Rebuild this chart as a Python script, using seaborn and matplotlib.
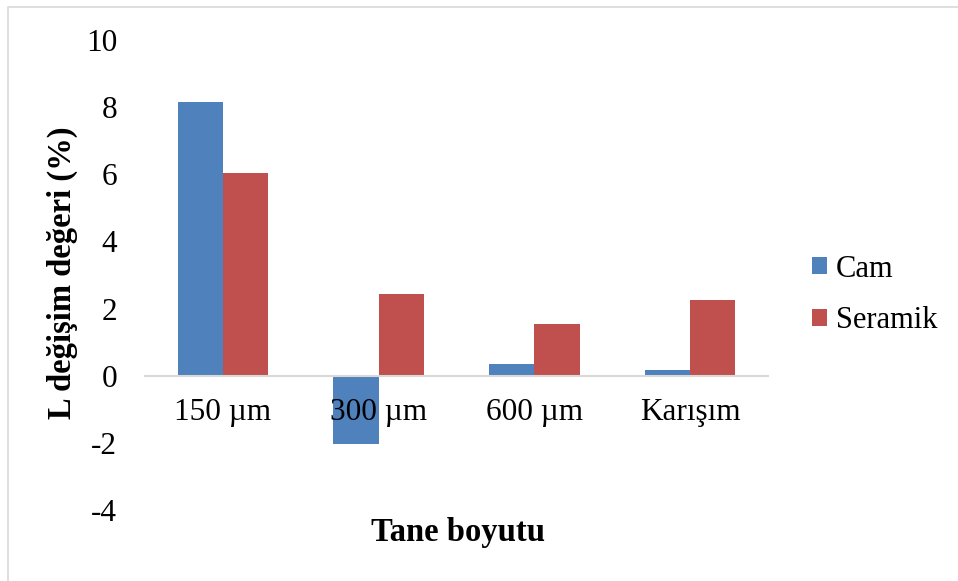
import matplotlib
matplotlib.use("Agg")
import matplotlib.pyplot as plt
import seaborn as sns
import pandas as pd
from matplotlib.patches import Patch, Rectangle

categories = ["150 µm", "300 µm", "600 µm", "Karışım"]
cam = [8.15, -2.02, 0.36, 0.18]
seramik = [6.05, 2.42, 1.55, 2.26]
series = ["Cam", "Seramik"]
colors = ["#4F81BD", "#C0504D"]
yticks = [-4, -2, 0, 2, 4, 6, 8, 10]

df = pd.DataFrame({
    "cat": categories * 2,
    "val": cam + seramik,
    "ser": ["Cam"] * 4 + ["Seramik"] * 4,
})

sns.set_theme(style="white")
plt.rcParams["font.family"] = ["Liberation Serif", "DejaVu Serif"]
plt.rcParams["text.color"] = "black"
plt.rcParams["xtick.color"] = "black"
plt.rcParams["ytick.color"] = "black"

fig = plt.figure(figsize=(9.58, 5.81), dpi=100)
ax = fig.add_axes([145/958, 1-510/581, (768-145)/958, (510-40)/581])

sns.barplot(data=df, x="cat", y="val", hue="ser", palette=colors,
            saturation=1, width=0.58, gap=0, ax=ax, legend=False, linewidth=0,
            order=categories, hue_order=series)

ax.set_axisbelow(False)
ax.set_ylim(-4, 10)
ax.set_xlim(-0.5, 3.5)
ax.set_yticks(yticks)
ax.set_yticklabels([str(t) for t in yticks])
for s in ["top", "right", "left"]:
    ax.spines[s].set_visible(False)
ax.spines["bottom"].set_position(("data", 0))
ax.spines["bottom"].set_color("#D9D9D9")
ax.spines["bottom"].set_linewidth(1.5)
ax.tick_params(axis="both", length=0, labelsize=22.5, labelcolor="black")
ax.tick_params(axis="x", pad=16)
ax.tick_params(axis="y", pad=20)
ax.set_xlabel("")
ax.set_ylabel("")
ax.grid(False)

fig.text(62/958, 1-273/581, "L değişim değeri (%)", rotation=90, ha="center",
         va="center", fontsize=23.5, fontweight="bold", color="black")
fig.text(458/958, 1-533/581, "Tane boyutu", ha="center", va="center",
         fontsize=23.5, fontweight="bold", color="black")

handles = [Patch(facecolor=c, edgecolor="none") for c in colors]
leg = fig.legend(handles, series, loc="center left",
                 bbox_to_anchor=(784/958, 1-295/581),
                 frameon=False, fontsize=22, handlelength=0.5, handleheight=0.5,
                 handletextpad=0.3, labelspacing=0.75)
for t in leg.get_texts():
    t.set_color("black")

fig.patches.append(Rectangle((8/958, -0.1), 1.2, 1 - 7/581 + 0.1,
                             transform=fig.transFigure, fill=False,
                             edgecolor="#D9D9D9", linewidth=1.2))

fig.savefig("out.png", dpi=100)
